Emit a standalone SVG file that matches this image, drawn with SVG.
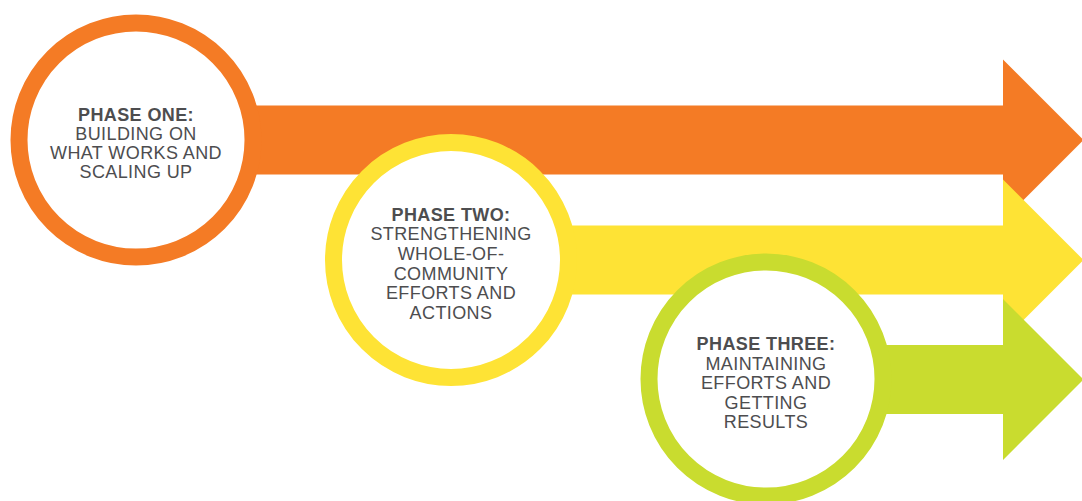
<svg xmlns="http://www.w3.org/2000/svg" width="1082" height="501" viewBox="0 0 1082 501">
<style>
.ring{fill:#fff;stroke-width:17}
.t{font-family:"Liberation Sans",Arial,sans-serif;font-size:18px;fill:#4d4d4f;text-anchor:middle;letter-spacing:0.4px}
.b{font-weight:bold}
</style>
<rect width="1082" height="501" fill="#fff"/>
<g id="connectors">
<polygon id="arrow1" fill="#f47b25" points="136,105.5 1003,105.5 1003,59.5 1083.5,140 1003,220.5 1003,174.5 136,174.5"/>
</g>
<g id="phase1">
<circle class="ring" cx="136" cy="140" r="117" stroke="#f47b25"/>
<text class="t b" x="136" y="120.5">PHASE ONE:</text>
<text class="t" x="136" y="139.5">BUILDING ON</text>
<text class="t" x="136" y="158.7">WHAT WORKS AND</text>
<text class="t" x="136" y="178">SCALING UP</text>
</g>
<g id="connectors2">
<polygon id="arrow2" fill="#fee335" points="451,225.5 1003,225.5 1003,179.5 1083.5,260 1003,340.5 1003,294.5 451,294.5"/>
</g>
<g id="phase2">
<circle class="ring" cx="451" cy="260" r="117.5" stroke="#fee335"/>
<text class="t b" x="451" y="220.7">PHASE TWO:</text>
<text class="t" x="451" y="240.2">STRENGTHENING</text>
<text class="t" x="451" y="260">WHOLE-OF-</text>
<text class="t" x="451" y="279.5">COMMUNITY</text>
<text class="t" x="451" y="299.3">EFFORTS AND</text>
<text class="t" x="451" y="319">ACTIONS</text>
</g>
<g id="connectors3">
<polygon id="arrow3" fill="#c9dc2f" points="766,345 1003,345 1003,299 1083.5,379.5 1003,460 1003,414 766,414"/>
</g>
<g id="phase3">
<circle class="ring" cx="766" cy="379" r="117" stroke="#c9dc2f"/>
<text class="t b" x="766" y="350">PHASE THREE:</text>
<text class="t" x="766" y="369.5">MAINTAINING</text>
<text class="t" x="766" y="389">EFFORTS AND</text>
<text class="t" x="766" y="408.5">GETTING</text>
<text class="t" x="766" y="428.3">RESULTS</text>
</g>
</svg>
